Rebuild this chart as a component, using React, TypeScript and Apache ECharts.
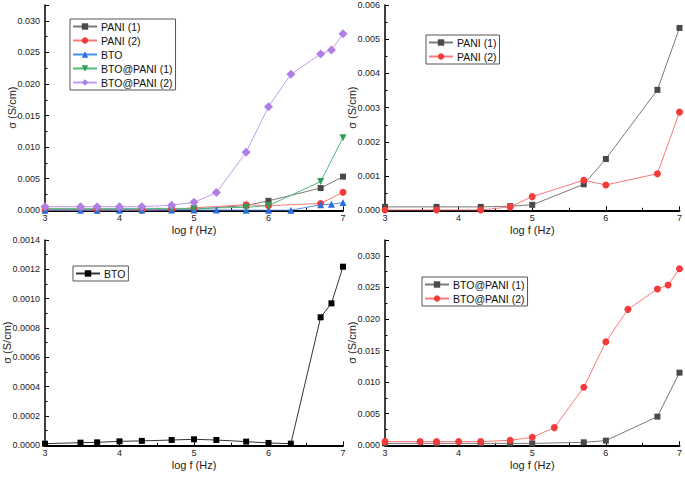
import React, { useEffect, useRef } from "react";
import * as echarts from "echarts";

// ---- data ----
const xPani = [3, 3.7, 4.3, 4.7, 5, 5.7, 6, 6.7, 7];
const xFull = [3, 3.477, 3.7, 4, 4.3, 4.7, 5, 5.3, 5.7, 6, 6.3, 6.7, 6.845, 7];
const pani1 = [0.0001, 0.0001, 0.0001, 0.00012, 0.00016, 0.00076, 0.0015, 0.00352, 0.00533];
const pani2 = [0.00001, 0.00001, 0.00001, 0.0001, 0.0004, 0.00088, 0.00074, 0.00107, 0.00287];
const bto = [0.000011, 0.000018, 0.00002, 0.000027, 0.00003, 0.000036, 0.000041, 0.000036, 0.000025, 0.000016, 0.000011, 0.000873, 0.000968, 0.001218];
const btoPani1 = [0.0003, 0.0003, 0.0003, 0.0003, 0.0003, 0.00047, 0.00074, 0.00454, 0.0115];
const btoPani2 = [0.00058, 0.00058, 0.00058, 0.00058, 0.00058, 0.00079, 0.00127, 0.0028, 0.00918, 0.0164, 0.02152, 0.02474, 0.02537, 0.02795];
const xTicks = { min: 3, max: 7, interval: 1 };
const yRanges = [
  { max: 0.0325, interval: 0.005, digits: 3, showMax: false },
  { max: 0.006, interval: 0.001, digits: 3, showMax: true },
  { max: 0.0014, interval: 0.0002, digits: 4, showMax: true },
  { max: 0.0325, interval: 0.005, digits: 3, showMax: false },
];

const FONT = "'Liberation Sans', Arial, sans-serif";

const grids = [
  { left: 45, top: 5, width: 298, height: 205.3 },
  { left: 385, top: 5, width: 298, height: 205.3 },
  { left: 45, top: 240, width: 298, height: 205.3 },
  { left: 385, top: 240, width: 298, height: 205.3 },
];
const yNameGaps = [28, 28, 33, 28];

function pairs(x: number[], y: number[]) {
  return x.map((v, i) => [v, y[i]]);
}

function mk(
  id: string,
  name: string,
  x: number[],
  y: number[],
  gi: number,
  color: string,
  lineColor: string,
  symbol: string,
  size: number,
  rotate = 0
) {
  return {
    type: "line",
    name: id + "|" + name,
    xAxisIndex: gi,
    yAxisIndex: gi,
    data: pairs(x, y),
    symbol,
    symbolSize: size,
    symbolRotate: rotate,
    itemStyle: { color },
    lineStyle: { color: lineColor, width: 1 },
    showSymbol: true,
  };
}

export default function App() {
  const ref = useRef<HTMLDivElement>(null);
  useEffect(() => {
    document.body.style.margin = "0";
    const chart = echarts.init(ref.current!, null, { renderer: "svg" });
    const gray = "#4a4a4a", grayL = "#7a7a7a";
    const red = "#f23b3b", redL = "#f77a7a";
    const blue = "#2a6fe0", blueL = "#4d8cf0";
    const green = "#2e9e58", greenL = "#4fb978";
    const purple = "#b07ee6", purpleL = "#c29cf0";

    const series = [
      mk("a", "PANI (1)", xPani, pani1, 0, gray, grayL, "rect", 6),
      mk("a", "PANI (2)", xPani, pani2, 0, red, redL, "circle", 7),
      mk("a", "BTO", xFull, bto, 0, blue, blueL, "triangle", 7),
      mk("a", "BTO@PANI (1)", xPani, btoPani1, 0, green, greenL, "triangle", 7, 180),
      mk("a", "BTO@PANI (2)", xFull, btoPani2, 0, purple, purpleL, "diamond", 9),
      mk("b", "PANI (1)", xPani, pani1, 1, gray, grayL, "rect", 6),
      mk("b", "PANI (2)", xPani, pani2, 1, red, redL, "circle", 7),
      mk("c", "BTO", xFull, bto, 2, "#000", "#333", "rect", 6),
      mk("d", "BTO@PANI (1)", xPani, btoPani1, 3, gray, grayL, "rect", 6),
      mk("d", "BTO@PANI (2)", xFull, btoPani2, 3, red, redL, "circle", 7),
    ];

    const legendBase = {
      orient: "vertical",
      borderColor: "#555",
      borderWidth: 1,
      padding: [2, 3, 2, 2],
      itemWidth: 24,
      itemHeight: 8,
      itemGap: 3,
      selectedMode: false,
      formatter: (n: string) => n.split("|")[1],
      textStyle: { fontSize: 10.5, fontFamily: FONT, color: "#111", padding: [0, 0, 0, -1] },
    };
    const legends = [
      { ...legendBase, left: 70, top: 19, data: series.slice(0, 5).map((s) => s.name) },
      { ...legendBase, left: 426, top: 35, data: series.slice(5, 7).map((s) => s.name) },
      { ...legendBase, left: 73, top: 266, data: series.slice(7, 8).map((s) => s.name) },
      { ...legendBase, left: 422, top: 277, data: series.slice(8, 10).map((s) => s.name) },
    ];

    const xAxes = grids.map((_, i) => ({
      type: "value",
      gridIndex: i,
      ...xTicks,
      name: "log f (Hz)",
      nameLocation: "middle",
      nameGap: 14,
      nameMoveOverlap: false,
      nameTextStyle: { fontSize: 11, fontFamily: FONT, color: "#222" },
      axisLine: { show: true, lineStyle: { color: "#000", width: 2 } },
      axisTick: { show: true, inside: true, length: 4, lineStyle: { color: "#000", width: 1 } },
      minorTick: { show: true, splitNumber: 2, length: 2.5, lineStyle: { color: "#000", width: 1 } },
      axisLabel: { fontSize: 9, fontFamily: FONT, color: "#222", margin: 3.5 },
      splitLine: { show: false },
    }));
    const yAxes = grids.map((_, i) => ({
      type: "value",
      gridIndex: i,
      min: 0,
      max: yRanges[i].max,
      interval: yRanges[i].interval,
      name: "σ (S/cm)",
      nameLocation: "middle",
      nameGap: yNameGaps[i],
      nameMoveOverlap: false,
      nameTextStyle: { fontSize: 11, fontFamily: FONT, color: "#222" },
      axisLine: { show: true, lineStyle: { color: "#000", width: 1.5 } },
      axisTick: { show: true, inside: true, length: 4, lineStyle: { color: "#000", width: 1 } },
      minorTick: { show: true, splitNumber: 2, length: 2.5, lineStyle: { color: "#000", width: 1 } },
      axisLabel: {
        fontSize: 9,
        fontFamily: FONT,
        color: "#222",
        margin: 5,
        showMaxLabel: yRanges[i].showMax,
        formatter: (v: number) => v.toFixed(yRanges[i].digits),
      },
      splitLine: { show: false },
    }));

    chart.setOption({
      animation: false,
      backgroundColor: "#fff",
      grid: grids,
      xAxis: xAxes,
      yAxis: yAxes,
      legend: legends,
      series,
    });
    return () => chart.dispose();
  }, []);
  return <div ref={ref} style={{ width: 685, height: 478 }} />;
}
